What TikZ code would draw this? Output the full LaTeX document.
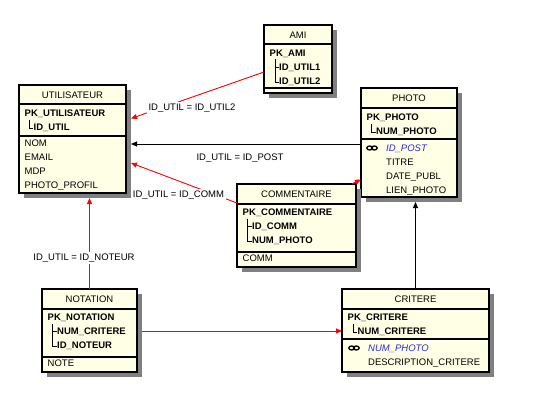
\documentclass[tikz,border=0pt]{standalone}
\usepackage{fontspec}
\setmainfont{Liberation Sans}
\usetikzlibrary{arrows.meta}
\definecolor{boxfill}{RGB}{255,255,230}
\definecolor{shadowc}{RGB}{128,128,128}
\definecolor{attrblue}{RGB}{40,40,230}
\tikzset{
 box/.style={draw=black, line width=1.1pt, fill=boxfill, inner sep=0, outer sep=0, rectangle},
 shadowbox/.style={fill=shadowc, inner sep=0, outer sep=0, rectangle},
 sepline/.style={line width=1.1pt},
 txt/.style={inner sep=0, anchor=base west, font=\fontsize{9.5}{11}\selectfont},
 ttl/.style={inner sep=0, anchor=base, font=\fontsize{9.5}{11}\selectfont},
 pk/.style={inner sep=0, anchor=base west, font=\fontsize{9.5}{11}\selectfont\bfseries},
 fk/.style={inner sep=0, anchor=base west, font=\fontsize{9.5}{11}\selectfont\itshape, text=attrblue},
 treeline/.style={line width=0.9pt},
 rel/.style={draw=red, line width=0.9pt, -{Triangle[length=6pt,width=5pt]}},
 idrel/.style={draw=black, line width=0.9pt, -{Triangle[length=6pt,width=5pt]}},
 lbl/.style={fill=white, inner sep=1.5pt, font=\fontsize{9.5}{11}\selectfont},
}
\newcommand\entbox[5]{%
 \node[shadowbox, minimum width={#4-#2}, minimum height={#5-#3}] (#1S) at ({(#2+#4)/2+5},{(#3+#5)/2+5}) {};
 \node[box, minimum width={#4-#2}, minimum height={#5-#3}] (#1) at ({(#2+#4)/2},{(#3+#5)/2}) {};
}
\newcommand\sepat[2]{\draw[sepline] (#1.west |- 0,#2) -- (#1.east |- 0,#2);}
\newcommand\linkicon[2]{\draw[line width=1.3pt] (#1-2.3,#2) ellipse [x radius=2.9, y radius=2] (#1+2.3,#2) ellipse [x radius=2.9, y radius=2];}
\begin{document}
\begin{tikzpicture}[x=1pt, y=-1pt]
\useasboundingbox (0,0) rectangle (549,404);
\fill[white] (0,0) rectangle (549,404);

% UTILISATEUR
\entbox{util}{19}{85}{126}{193}
\sepat{util}{104}\sepat{util}{136}
\node[ttl] (ut-t) at (72.5,98.4) {UTILISATEUR};
\node[pk] (ut-pk) at (24.5,116.4) {PK\_UTILISATEUR};
\draw[treeline] (29.5,119.5) -- (29.5,128.5) -- (33,128.5);
\node[pk] (ut-k1) at (33.5,130.4) {ID\_UTIL};
\node[txt] (ut-a1) at (24.5,146.4) {NOM};
\node[txt] (ut-a2) at (24.5,160.4) {EMAIL};
\node[txt] (ut-a3) at (24.5,174.4) {MDP};
\node[txt] (ut-a4) at (24.5,188.4) {PHOTO\_PROFIL};

% AMI
\entbox{ami}{264}{25}{332}{93}
\sepat{ami}{44}\sepat{ami}{88}
\node[ttl] (am-t) at (298,38.4) {AMI};
\node[pk] (am-pk) at (269.5,56.4) {PK\_AMI};
\draw[treeline] (275,59.5) -- (275,82) -- (279,82) (275,67.5) -- (279,67.5);
\node[pk] (am-k1) at (279,70.4) {ID\_UTIL1};
\node[pk] (am-k2) at (279,84.4) {ID\_UTIL2};

% PHOTO
\entbox{photo}{361}{88}{457}{197}
\sepat{photo}{108}\sepat{photo}{139}
\node[ttl] (ph-t) at (409,101.4) {PHOTO};
\node[pk] (ph-pk) at (366.5,120.4) {PK\_PHOTO};
\draw[treeline] (371.5,123.5) -- (371.5,132.5) -- (375.5,132.5);
\node[pk] (ph-k1) at (376,134.4) {NUM\_PHOTO};
\linkicon{372}{148}
\node[fk] (ph-a1) at (386,151.4) {ID\_POST};
\node[txt] (ph-a2) at (386,165.4) {TITRE};
\node[txt] (ph-a3) at (386,179.4) {DATE\_PUBL};
\node[txt] (ph-a4) at (386,193.4) {LIEN\_PHOTO};

% COMMENTAIRE
\entbox{comm}{237}{184}{356}{267}
\sepat{comm}{204}\sepat{comm}{252}
\node[ttl] (co-t) at (296.5,197.4) {COMMENTAIRE};
\node[pk] (co-pk) at (242.5,215.4) {PK\_COMMENTAIRE};
\draw[treeline] (247.5,218.5) -- (247.5,241) -- (252,241) (247.5,226.5) -- (252,226.5);
\node[pk] (co-k1) at (252,229.4) {ID\_COMM};
\node[pk] (co-k2) at (252,243.4) {NUM\_PHOTO};
\node[txt] (co-a1) at (242.5,261.4) {COMM};

% NOTATION
\entbox{notat}{42}{289}{137}{372}
\sepat{notat}{309}\sepat{notat}{357}
\node[ttl] (no-t) at (89.5,302.4) {NOTATION};
\node[pk] (no-pk) at (47.5,320.4) {PK\_NOTATION};
\draw[treeline] (52.5,323.5) -- (52.5,346) -- (57,346) (52.5,331.5) -- (57,331.5);
\node[pk] (no-k1) at (57,334.4) {NUM\_CRITERE};
\node[pk] (no-k2) at (57,348.4) {ID\_NOTEUR};
\node[txt] (no-a1) at (47.5,366.4) {NOTE};

% CRITERE
\entbox{crit}{342}{289}{489}{372}
\sepat{crit}{309}\sepat{crit}{339}
\node[ttl] (cr-t) at (415.5,302.4) {CRITERE};
\node[pk] (cr-pk) at (347.5,320.4) {PK\_CRITERE};
\draw[treeline] (353,323.5) -- (353,332.5) -- (357,332.5);
\node[pk] (cr-k1) at (357.5,334.4) {NUM\_CRITERE};
\linkicon{354}{348}
\node[fk] (cr-a1) at (368,351.4) {NUM\_PHOTO};
\node[txt] (cr-a2) at (368,365.4) {DESCRIPTION\_CRITERE};

% connectors
\draw[rel] (ami.west |- 0,72) -- (utilS.east |- 0,118.5);
\node[lbl] (l1) at (192,108) {ID\_UTIL = ID\_UTIL2};
\draw[idrel] (photo.west |- 0,144) -- (utilS.east |- 0,144);
\node[lbl, fill=none] (l2) at (240,158) {ID\_UTIL = ID\_POST};
\draw[rel] (comm.west |- 0,203) -- (utilS.east |- 0,163);
\node[lbl] (l3) at (178.5,195) {ID\_UTIL = ID\_COMM};
\draw[rel] ([xshift=-4pt]comm.north east) -- (photo.west |- 0,179.5);
\draw[idrel] (crit.north) -- (crit.north |- photoS.south);
\draw[rel] (notat.north) -- (notat.north |- utilS.south);
\node[lbl] (l4) at (84,258) {ID\_UTIL = ID\_NOTEUR};
\draw[rel] (notatS.east |- 0,331) -- (crit.west |- 0,331);
\end{tikzpicture}
\end{document}
